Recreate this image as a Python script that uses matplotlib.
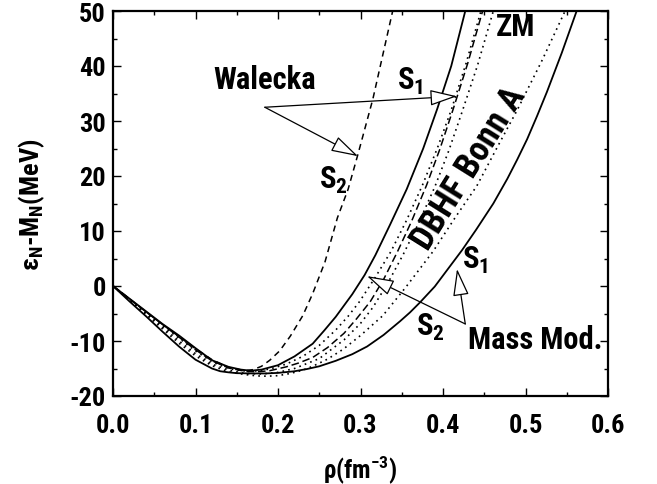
import matplotlib
matplotlib.use('Agg')
import matplotlib.pyplot as plt
from matplotlib.ticker import MultipleLocator

plt.rcParams['font.family'] = ['Roboto Condensed', 'Roboto', 'DejaVu Sans']
plt.rcParams['font.weight'] = 'bold'
plt.rcParams['axes.labelweight'] = 'bold'
plt.rcParams['mathtext.fontset'] = 'custom'
plt.rcParams['mathtext.rm'] = 'Roboto Condensed:bold'
plt.rcParams['mathtext.bf'] = 'Roboto Condensed:bold'
plt.rcParams['mathtext.it'] = 'Roboto Condensed:bold'
plt.rcParams['axes.unicode_minus'] = False

# values: density (fm^-3) and energy (MeV)
walecka_s2_rho = [0, 0.02, 0.04, 0.06, 0.08, 0.10, 0.12, 0.14, 0.16, 0.17, 0.18, 0.19, 0.202,
                  0.215, 0.23, 0.242, 0.257, 0.272, 0.285, 0.297, 0.315, 0.327, 0.339]
walecka_s2_e = [0, -2.35, -4.7, -7.0, -9.2, -11.4, -13.4, -14.8, -15.4, -15.2, -14.6, -13.5, -11.8,
                -9.1, -5.4, -1.4, 4.4, 12.4, 17.6, 24.0, 34.0, 42.0, 50.0]

walecka_s1_rho = [0, 0.02, 0.04, 0.06, 0.08, 0.10, 0.12, 0.14, 0.155, 0.167, 0.18, 0.20, 0.22,
                  0.242, 0.256, 0.27, 0.29, 0.305, 0.318, 0.336, 0.356, 0.376, 0.393, 0.41, 0.427]
walecka_s1_e = [0, -2.3, -4.6, -6.9, -9.0, -11.3, -13.5, -14.7, -15.2, -15.4, -15.2, -14.4, -12.8,
                -10.5, -8.1, -5.6, -1.5, 2.0, 5.6, 11.2, 17.6, 25.0, 32.2, 40.0, 50.0]

dot_a_rho = [0, 0.02, 0.04, 0.06, 0.08, 0.10, 0.12, 0.14, 0.155, 0.17, 0.19, 0.21, 0.23, 0.25,
             0.27, 0.285, 0.299, 0.318, 0.337, 0.356, 0.375, 0.393, 0.41, 0.428, 0.446]
dot_a_e = [0, -2.4, -4.8, -7.2, -9.5, -11.8, -13.8, -15.0, -15.4, -15.5, -15.1, -14.2, -12.8, -10.8,
           -8.0, -5.5, -2.8, 1.6, 6.3, 12.0, 18.3, 25.0, 32.0, 40.5, 50.0]

zm_rho = [0, 0.02, 0.04, 0.06, 0.08, 0.10, 0.12, 0.14, 0.16, 0.175, 0.19, 0.21, 0.225, 0.242,
          0.26, 0.28, 0.295, 0.312, 0.328, 0.345, 0.362, 0.38, 0.396, 0.412, 0.43, 0.448]
zm_e = [0, -2.35, -4.7, -7.0, -9.3, -11.6, -13.6, -14.9, -15.5, -15.6, -15.4, -14.7, -14.0, -13.0,
        -11.2, -8.6, -6.0, -2.8, 1.2, 6.3, 11.8, 18.3, 24.8, 32.0, 40.5, 50.0]

dot_b_rho = [0, 0.02, 0.04, 0.06, 0.08, 0.10, 0.12, 0.14, 0.16, 0.18, 0.20, 0.22, 0.25, 0.28,
             0.30, 0.315, 0.333, 0.352, 0.37, 0.39, 0.407, 0.423, 0.442, 0.461]
dot_b_e = [0, -2.5, -5.0, -7.5, -10.0, -12.3, -14.2, -15.3, -15.9, -16.0, -15.7, -15.0, -13.2, -9.8,
           -6.8, -3.9, 0.5, 5.8, 11.3, 18.0, 24.6, 31.6, 40.2, 50.0]

dbhf_rho = [0, 0.02, 0.04, 0.06, 0.08, 0.10, 0.12, 0.14, 0.16, 0.175, 0.187, 0.20, 0.215, 0.23,
            0.242, 0.26, 0.279, 0.30, 0.327, 0.355, 0.388, 0.415, 0.441, 0.466, 0.49, 0.52, 0.548]
dbhf_e = [0, -2.6, -5.2, -7.8, -10.4, -12.7, -14.5, -15.6, -16.1, -16.35, -16.4, -16.3, -15.9, -15.3,
          -14.6, -13.3, -11.5, -9.0, -5.4, -0.2, 6.3, 12.5, 18.2, 25.3, 32.0, 41.0, 50.0]

massmod_rho = [0, 0.02, 0.04, 0.06, 0.08, 0.10, 0.12, 0.13, 0.14, 0.15, 0.17, 0.185, 0.20, 0.22,
               0.235, 0.25, 0.27, 0.29, 0.308, 0.328, 0.348, 0.36, 0.372, 0.39, 0.406, 0.423,
               0.44, 0.461, 0.478, 0.49, 0.502, 0.514, 0.526, 0.544, 0.562]
massmod_e = [0, -2.8, -5.5, -8.3, -11.0, -13.4, -15.0, -15.5, -15.7, -15.85, -15.9, -15.9, -15.8, -15.5,
             -15.1, -14.6, -13.6, -12.4, -11.0, -8.9, -6.4, -4.8, -3.0, -0.1, 3.1, 6.5,
             10.2, 15.0, 19.5, 23.0, 26.7, 30.9, 35.3, 42.4, 50.0]

fig = plt.figure(figsize=(6.57, 4.85), dpi=100)
ax = fig.add_axes([113 / 657, 1 - 397 / 485, 495 / 657, 385 / 485])

ax.plot(walecka_s2_rho, walecka_s2_e, color='k', lw=1.1, ls=(0, (4, 3)))
ax.plot(walecka_s1_rho, walecka_s1_e, color='k', lw=1.3)
ax.plot(dot_a_rho, dot_a_e, color='k', lw=1.2, ls=(0, (1, 2.5)))
ax.plot(zm_rho, zm_e, color='k', lw=1.1, ls=(0, (5, 2.5)))
ax.plot(dot_b_rho, dot_b_e, color='k', lw=1.2, ls=(0, (1, 2.5)))
ax.plot(dbhf_rho, dbhf_e, color='k', lw=1.2, ls=(0, (1, 2.5)))
ax.plot(massmod_rho, massmod_e, color='k', lw=1.3)

ax.set_xlim(0, 0.6)
ax.set_ylim(-20, 50)
ax.xaxis.set_major_locator(MultipleLocator(0.1))
ax.xaxis.set_minor_locator(MultipleLocator(0.05))
ax.yaxis.set_major_locator(MultipleLocator(10))
ax.yaxis.set_minor_locator(MultipleLocator(5))
ax.tick_params(which='both', direction='in', top=True, right=True, width=1.0)
ax.tick_params(which='major', length=6)
ax.tick_params(which='minor', length=3)
ax.tick_params(axis='x', pad=12, labelsize=19)
ax.tick_params(axis='y', pad=5, labelsize=19)
ax.set_xticklabels(['%.1f' % v for v in ax.get_xticks()])
for s in ax.spines.values():
    s.set_linewidth(1.6)

ax.set_xlabel(r'ρ(fm$^{-3}$)', fontsize=18, labelpad=11)
ax.set_ylabel(r'ε$_{\mathrm{N}}$-M$_{\mathrm{N}}$(MeV)', fontsize=19, labelpad=16)

ax.text(0.184, 37.6, 'Walecka', fontsize=22, ha='center', va='center')
ax.text(0.36, 37.3, 'S$_1$', fontsize=22, ha='center', va='center')
ax.text(0.267, 19.3, 'S$_2$', fontsize=22, ha='center', va='center')
ax.text(0.488, 47.3, 'ZM', fontsize=22, ha='center', va='center')
ax.text(0.432, 21.5, 'DBHF Bonn A', fontsize=25, ha='center', va='center', rotation=58,
        rotation_mode='anchor')
ax.text(0.439, 4.9, 'S$_1$', fontsize=22, ha='center', va='center')
ax.text(0.385, -7.3, 'S$_2$', fontsize=22, ha='center', va='center')
ax.text(0.512, -9.6, 'Mass Mod.', fontsize=22, ha='center', va='center')

arrow = dict(arrowstyle='-|>,head_length=1.7,head_width=0.5', fc='white', ec='k',
             lw=0.9, shrinkA=0, shrinkB=0, mutation_scale=10)
ax.annotate('', xy=(0.297, 23.6), xytext=(0.184, 32.5), arrowprops=arrow)
ax.annotate('', xy=(0.417, 34.5), xytext=(0.184, 32.5), arrowprops=arrow)
ax.annotate('', xy=(0.308, 1.8), xytext=(0.427, -6.9), arrowprops=arrow)
ax.annotate('', xy=(0.417, 3.1), xytext=(0.427, -6.9), arrowprops=arrow)

fig.savefig('out.png', dpi=100)
